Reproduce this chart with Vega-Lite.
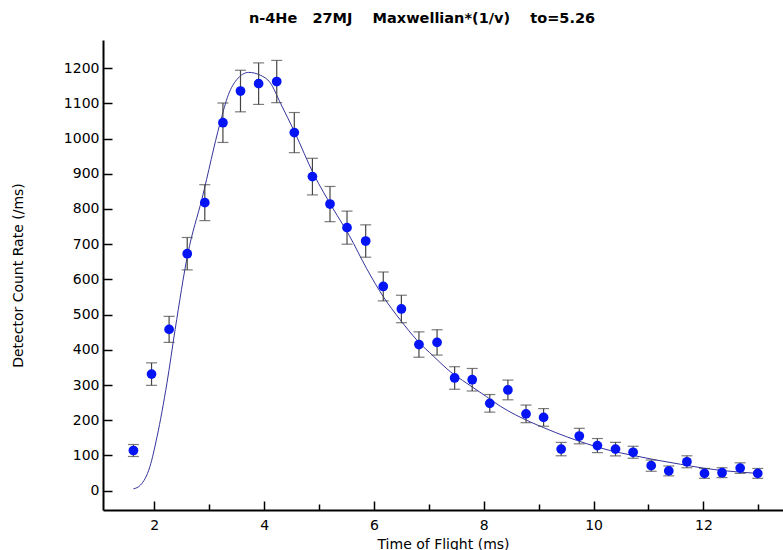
{
  "$schema": "https://vega.github.io/schema/vega-lite/v6.json",
  "width": 680,
  "height": 470,
  "autosize": {"type": "none"},
  "padding": {"left": 103, "top": 40, "right": 0, "bottom": 40},
  "background": "white",
  "config": {"view": {"stroke": null}, "font": "DejaVu Sans"},
  "title": {
    "text": "n-4He\u00a0\u00a0\u00a027MJ\u00a0\u00a0\u00a0\u00a0Maxwellian*(1/v)\u00a0\u00a0\u00a0\u00a0to=5.26",
    "font": "DejaVu Sans",
    "fontSize": 14.5,
    "fontWeight": "bold",
    "color": "black",
    "anchor": "middle",
    "frame": "group",
    "dx": -21,
    "offset": 3,
    "baseline": "alphabetic"
  },
  "datasets": {
    "obs": [
      {"t": 1.62, "rate": 114, "err": 17},
      {"t": 1.95, "rate": 331, "err": 32},
      {"t": 2.27, "rate": 458, "err": 37},
      {"t": 2.60, "rate": 673, "err": 46},
      {"t": 2.92, "rate": 818, "err": 51},
      {"t": 3.25, "rate": 1045, "err": 56},
      {"t": 3.57, "rate": 1135, "err": 59},
      {"t": 3.90, "rate": 1156, "err": 59},
      {"t": 4.23, "rate": 1162, "err": 60},
      {"t": 4.55, "rate": 1017, "err": 57},
      {"t": 4.88, "rate": 892, "err": 52},
      {"t": 5.20, "rate": 814, "err": 50},
      {"t": 5.51, "rate": 747, "err": 47},
      {"t": 5.85, "rate": 709, "err": 46},
      {"t": 6.17, "rate": 580, "err": 41},
      {"t": 6.50, "rate": 516, "err": 39},
      {"t": 6.82, "rate": 415, "err": 36},
      {"t": 7.15, "rate": 421, "err": 36},
      {"t": 7.47, "rate": 320, "err": 32},
      {"t": 7.79, "rate": 315, "err": 32},
      {"t": 8.11, "rate": 248, "err": 25},
      {"t": 8.44, "rate": 286, "err": 28},
      {"t": 8.77, "rate": 218, "err": 25},
      {"t": 9.09, "rate": 208, "err": 25},
      {"t": 9.41, "rate": 118, "err": 19},
      {"t": 9.74, "rate": 155, "err": 22},
      {"t": 10.07, "rate": 128, "err": 20},
      {"t": 10.40, "rate": 118, "err": 19},
      {"t": 10.72, "rate": 109, "err": 17},
      {"t": 11.05, "rate": 71, "err": 16},
      {"t": 11.37, "rate": 56, "err": 14},
      {"t": 11.70, "rate": 82, "err": 17},
      {"t": 12.02, "rate": 49, "err": 14},
      {"t": 12.34, "rate": 51, "err": 14},
      {"t": 12.67, "rate": 64, "err": 15},
      {"t": 12.99, "rate": 49, "err": 14}
    ],
    "fit": [
      {"t": 1.62, "rate": 5},
      {"t": 1.75, "rate": 16},
      {"t": 1.92, "rate": 68},
      {"t": 2.05, "rate": 153},
      {"t": 2.23, "rate": 305},
      {"t": 2.38, "rate": 458},
      {"t": 2.61, "rate": 672},
      {"t": 2.87, "rate": 830},
      {"t": 3.20, "rate": 1045},
      {"t": 3.35, "rate": 1125},
      {"t": 3.50, "rate": 1167},
      {"t": 3.72, "rate": 1188},
      {"t": 3.93, "rate": 1180},
      {"t": 4.11, "rate": 1159},
      {"t": 4.30, "rate": 1100},
      {"t": 4.56, "rate": 1017},
      {"t": 4.90, "rate": 900},
      {"t": 5.26, "rate": 800},
      {"t": 5.55, "rate": 725},
      {"t": 5.87, "rate": 630},
      {"t": 6.17, "rate": 551},
      {"t": 6.48, "rate": 485},
      {"t": 6.78, "rate": 428},
      {"t": 7.09, "rate": 381},
      {"t": 7.39, "rate": 338},
      {"t": 7.69, "rate": 305},
      {"t": 8.05, "rate": 267},
      {"t": 8.30, "rate": 240},
      {"t": 8.85, "rate": 195},
      {"t": 9.09, "rate": 179},
      {"t": 9.51, "rate": 153},
      {"t": 9.88, "rate": 133},
      {"t": 10.30, "rate": 114},
      {"t": 10.72, "rate": 100},
      {"t": 11.14, "rate": 87},
      {"t": 11.58, "rate": 75},
      {"t": 12.00, "rate": 64},
      {"t": 12.42, "rate": 56},
      {"t": 12.99, "rate": 49}
    ]
  },
  "encoding": {
    "x": {
      "field": "t", "type": "quantitative",
      "title": "Time of Flight (ms)",
      "scale": {"domain": [1.066, 13.45], "nice": false, "zero": false},
      "axis": {
        "values": [2, 3, 4, 5, 6, 7, 8, 9, 10, 11, 12, 13],
        "labelExpr": "datum.value % 2 === 0 ? datum.label : ''",
        "tickSize": {"condition": {"test": "datum.value % 2 === 0", "value": -9}, "value": -6},
        "tickWidth": 1.5,
        "tickColor": "black",
        "domainColor": "black",
        "domainWidth": 2,
        "labelFont": "DejaVu Sans",
        "labelFontSize": 14,
        "labelColor": "black",
        "labelPadding": 17,
        "labelFlush": false,
        "labelOverlap": false,
        "grid": false,
        "titleFont": "DejaVu Sans",
        "titleFontSize": 14,
        "titleFontWeight": "normal",
        "titleColor": "black",
        "titleY": 38,
        "titleBaseline": "alphabetic"
      }
    },
    "y": {
      "field": "rate", "type": "quantitative",
      "title": "Detector Count Rate (/ms)",
      "scale": {"domain": [-55, 1280], "nice": false, "zero": false},
      "axis": {
        "values": [0, 100, 200, 300, 400, 500, 600, 700, 800, 900, 1000, 1100, 1200],
        "format": "d",
        "tickSize": -9,
        "tickWidth": 1.5,
        "tickColor": "black",
        "domainColor": "black",
        "domainWidth": 2,
        "labelFont": "DejaVu Sans",
        "labelFontSize": 14,
        "labelColor": "black",
        "labelPadding": 13,
        "labelOverlap": false,
        "grid": false,
        "titleFont": "DejaVu Sans",
        "titleFontSize": 14,
        "titleFontWeight": "normal",
        "titleColor": "black",
        "titleX": -85,
        "titleY": 235,
        "titleBaseline": "middle"
      }
    }
  },
  "layer": [
    {
      "data": {"name": "fit"},
      "mark": {"type": "line", "color": "#34349c", "strokeWidth": 1, "interpolate": "monotone"}
    },
    {
      "data": {"name": "obs"},
      "mark": {"type": "errorbar", "color": "#454545", "thickness": 1.2, "ticks": {"size": 11, "thickness": 1.2, "color": "#454545"}},
      "encoding": {
        "yError": {"field": "err"}
      }
    },
    {
      "data": {"name": "obs"},
      "mark": {"type": "circle", "color": "#0514f5", "opacity": 1, "size": 95}
    }
  ]
}
